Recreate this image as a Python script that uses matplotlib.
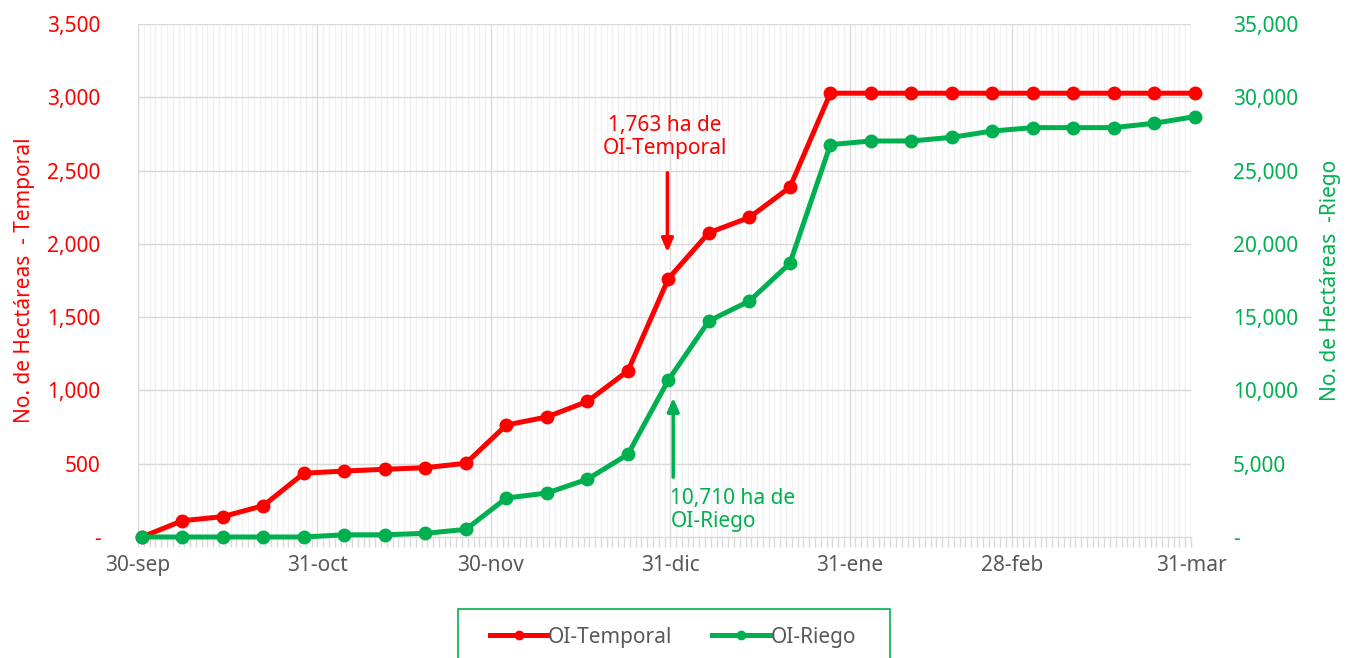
import matplotlib
matplotlib.use("Agg")
import matplotlib.pyplot as plt
import matplotlib.dates as mdates
import matplotlib.ticker as mticker
import matplotlib.patches as patches
import pandas as pd

plt.rcParams["font.family"] = ["Noto Sans", "DejaVu Sans"]

# Datos semanales (30-sep a 31-mar)
fechas = pd.date_range("2020-09-30 16:00", periods=27, freq="7D")
oi_temporal = [0, 111, 139, 214, 435, 450, 462, 473, 503, 764, 819, 925, 1133,
               1763, 2076, 2180, 2386, 3028, 3028, 3028, 3028, 3028, 3028,
               3028, 3028, 3028, 3028]
oi_riego = [0, 0, 0, 0, 0, 150, 150, 250, 520, 2660, 3000, 3940, 5640,
            10710, 14740, 16100, 18670, 26770, 27020, 27020, 27270, 27700,
            27930, 27930, 27930, 28230, 28680]

tick_fechas = pd.to_datetime(["2020-09-30", "2020-10-31", "2020-11-30",
                              "2020-12-31", "2021-01-31", "2021-02-28",
                              "2021-03-31"])
tick_labels = ["30-sep", "31-oct", "30-nov", "31-dic", "31-ene", "28-feb", "31-mar"]

ROJO = "#FF0000"
VERDE = "#00B050"
GRIS = "#595959"
FS = 15


def miles(v, pos):
    return "-" if v == 0 else f"{v:,.0f}"


fig = plt.figure(figsize=(13.47, 6.58), dpi=100)
ax1 = fig.add_axes([0.1025, 0.1839, 0.7817, 0.7796])
ax2 = ax1.twinx()

l1, = ax1.plot(fechas, oi_temporal, color=ROJO, lw=3.6, marker="o", ms=9,
               label="OI-Temporal", clip_on=False, zorder=3)
l2, = ax2.plot(fechas, oi_riego, color=VERDE, lw=3.6, marker="o", ms=9,
               label="OI-Riego", clip_on=False, zorder=3)

# Ejes
ax1.set_xlim(tick_fechas[0], tick_fechas[-1])
ax1.set_ylim(0, 3500)
ax2.set_ylim(0, 35000)
ax1.yaxis.set_major_locator(mticker.MultipleLocator(500))
ax2.yaxis.set_major_locator(mticker.MultipleLocator(5000))
ax1.yaxis.set_major_formatter(mticker.FuncFormatter(miles))
ax2.yaxis.set_major_formatter(mticker.FuncFormatter(miles))

ax1.xaxis.set_major_locator(mticker.FixedLocator(mdates.date2num(tick_fechas)))
ax1.xaxis.set_major_formatter(mticker.FixedFormatter(tick_labels))
ax1.xaxis.set_minor_locator(mdates.DayLocator())

ax1.tick_params(axis="x", which="both", colors="#D9D9D9", length=7, width=1,
                labelcolor=GRIS, labelsize=FS, pad=6)
ax1.tick_params(axis="y", length=0, labelcolor=ROJO, labelsize=FS, pad=27)
ax2.tick_params(axis="y", length=0, labelcolor=VERDE, labelsize=FS, pad=30)

ax1.grid(True, which="major", color="#D9D9D9", lw=1)
ax1.grid(True, which="minor", axis="x", color="#F0F0F0", lw=1)
ax1.set_axisbelow(True)

for ax in (ax1, ax2):
    for s in ax.spines.values():
        s.set_visible(False)
ax1.spines["bottom"].set_visible(True)
ax1.spines["bottom"].set_color("#D9D9D9")

ax1.set_ylabel("No. de Hectáreas  - Temporal", color=ROJO, fontsize=FS, labelpad=9)
ax2.set_ylabel("No. de Hectáreas  -Riego", color=VERDE, fontsize=FS, labelpad=16)

# Anotaciones
x_rojo = mdates.date2num(pd.Timestamp("2020-12-30 12:00"))
ax1.annotate("", xy=(x_rojo, 1924), xytext=(x_rojo, 2504),
             arrowprops=dict(arrowstyle="-|>,head_length=0.8,head_width=0.35",
                             color=ROJO, lw=2.5))
ax1.text(pd.Timestamp("2020-12-30"), 2729, "1,763 ha de\nOI-Temporal",
         color=ROJO, fontsize=FS, ha="center", va="center", linespacing=1.1)

x_verde = mdates.date2num(pd.Timestamp("2020-12-31 12:00"))
ax2.annotate("", xy=(x_verde, 9690), xytext=(x_verde, 3890),
             arrowprops=dict(arrowstyle="-|>,head_length=0.8,head_width=0.35",
                             color=VERDE, lw=2.5))
ax2.text(pd.Timestamp("2020-12-31"), 1842, "10,710 ha de\nOI-Riego",
         color=VERDE, fontsize=FS, ha="left", va="center", linespacing=1.1)

# Leyenda abajo (marco dibujado aparte, se sale por abajo)
leg = fig.legend(handles=[l1, l2], loc="upper center",
                 bbox_to_anchor=(0.4995, 0.0745), ncol=2, fontsize=FS,
                 frameon=False, handlelength=2.8,
                 handletextpad=0.0, columnspacing=1.9, borderpad=0.85,
                 borderaxespad=0)
for h in leg.legend_handles:
    h.set_markersize(6)
for t in leg.get_texts():
    t.set_color(GRIS)
marco = patches.Rectangle((458 / 1347, -0.05), 432 / 1347, 0.05 + 49 / 658,
                          transform=fig.transFigure, fill=False,
                          edgecolor=VERDE, lw=1.2, clip_on=False)
fig.patches.append(marco)

fig.savefig("out.png", dpi=100)
